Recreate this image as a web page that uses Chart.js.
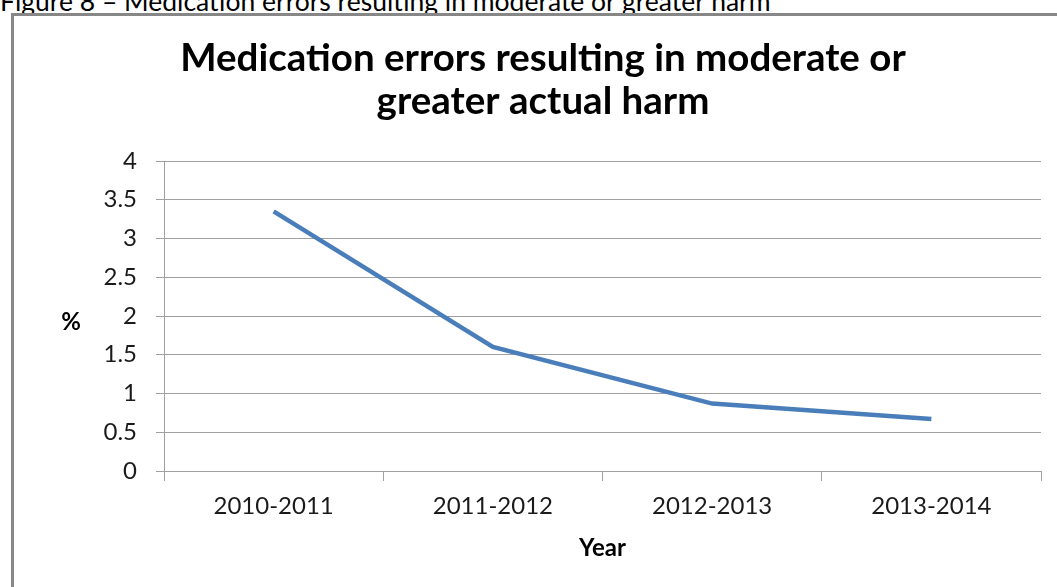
<!DOCTYPE html>
<html>
<head>
<meta charset="utf-8">
<script src="https://cdn.jsdelivr.net/npm/chart.js@4"></script>
<style>
  html, body { margin: 0; padding: 0; background: #fff; overflow: hidden; }
  body { width: 1057px; height: 587px; position: relative; font-family: Lato, sans-serif; }
  #caption { position: absolute; left: 0; top: -12px; font-size: 26.5px; line-height: 26px; color: #000; white-space: nowrap; }
  #box { position: absolute; left: 11px; top: 13px; width: 1200px; height: 700px; border: 3px solid #878787; box-sizing: border-box; }
  #chart { position: absolute; left: 0; top: 0; }
</style>
</head>
<body>
<div id="caption">Figure 8 – Medication errors resulting in moderate or greater harm</div>
<div id="box"></div>
<canvas id="chart" width="1057" height="587"></canvas>
<script>
// chart data
const years = ['2010-2011', '2011-2012', '2012-2013', '2013-2014'];
const harmPercent = [3.35, 1.6, 0.87, 0.67];
const chartTitle = ['Medication errors resulting in moderate or', 'greater actual harm'];

// draws the horizontal "%" label left of the y axis
const percentLabel = {
  id: 'percentLabel',
  afterDraw: function (chart) {
    const ctx = chart.ctx;
    const area = chart.chartArea;
    ctx.save();
    ctx.font = 'bold 24px Lato';
    ctx.fillStyle = '#000';
    ctx.textAlign = 'center';
    ctx.textBaseline = 'middle';
    ctx.fillText('%', 71, (area.top + area.bottom) / 2 + 6);
    ctx.restore();
  }
};

document.addEventListener('DOMContentLoaded', function () {
  const ctx = document.getElementById('chart').getContext('2d');

  new Chart(ctx, {
    type: 'line',
    data: {
      labels: years,
      datasets: [{
        label: '%',
        data: harmPercent,
        borderColor: '#4a7ebb',
        borderWidth: 4.5,
        pointRadius: 0,
        tension: 0,
        fill: false
      }]
    },
    options: {
      responsive: false,
      animation: false,
      // left padding shifts the title centre to match the original
      layout: { padding: { left: 45, right: 16, top: 0, bottom: 0 } },
      plugins: {
        legend: { display: false },
        tooltip: { enabled: false },
        title: {
          display: true,
          text: chartTitle,
          color: '#000',
          font: { family: 'Lato', size: 38.5, weight: 'bold', lineHeight: 1.117 },
          padding: { top: 37.5, bottom: 37.5 }
        }
      },
      scales: {
        x: {
          offset: true,
          grid: {
            offset: true,
            drawOnChartArea: false,
            drawTicks: true,
            tickLength: 10,
            color: '#a0a0a0'
          },
          border: { color: '#a0a0a0' },
          ticks: {
            color: '#1a1a1a',
            font: { family: 'Lato', size: 24 },
            padding: 11,
            maxRotation: 0
          },
          title: {
            display: true,
            text: 'Year',
            color: '#000',
            font: { family: 'Lato', size: 24, weight: 'bold', lineHeight: 1.2 },
            padding: { top: 0, bottom: 24 }
          },
          afterFit: function (scale) { scale.height = 116; }
        },
        y: {
          min: 0,
          max: 4,
          ticks: {
            stepSize: 0.5,
            color: '#1a1a1a',
            font: { family: 'Lato', size: 24 },
            padding: 19,
            callback: function (value) { return String(value); }
          },
          grid: {
            color: '#a0a0a0',
            tickLength: 8
          },
          border: { color: '#a0a0a0' },
          afterFit: function (scale) { scale.width = 119; }
        }
      }
    },
    plugins: [percentLabel]
  });
});
</script>
</body>
</html>
